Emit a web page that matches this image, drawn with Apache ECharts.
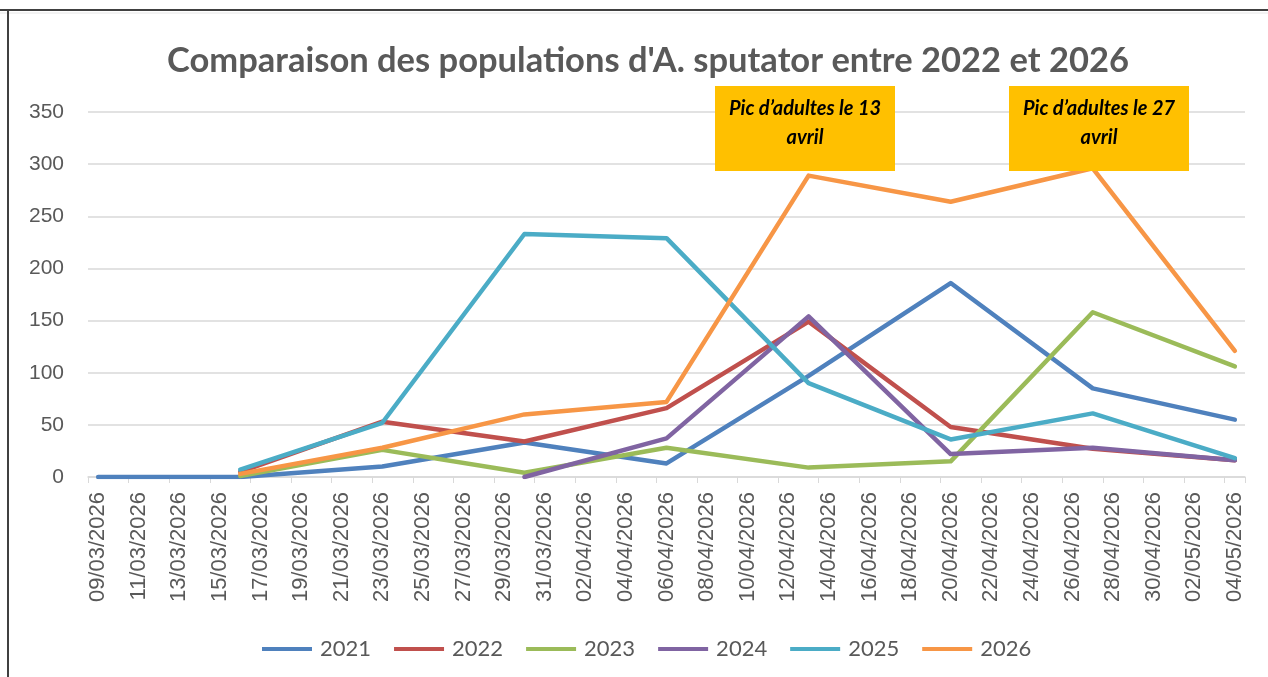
<!DOCTYPE html>
<html>
<head>
<meta charset="utf-8">
<script src="https://cdn.jsdelivr.net/npm/echarts@6/dist/echarts.min.js"></script>
<style>
html,body{margin:0;padding:0;background:#fff;}
#chart{width:1268px;height:677px;}
</style>
</head>
<body>
<div id="chart"></div>
<script>
// ---- data ----
const startDate = '2026-03-09';
const endDate = '2026-05-04';
const sampleDates = ['09/03/2026','16/03/2026','23/03/2026','30/03/2026','06/04/2026','13/04/2026','20/04/2026','27/04/2026','04/05/2026'];
const seriesNames = ['2021','2022','2023','2024','2025','2026'];
const v2021 = [0, 0, 10, 33, 13, 97, 186, 85, 55];
const v2022 = [null, 5, 53, 34, 66, 149, 48, 27, 16];
const v2023 = [null, 1, 26, 4, 28, 9, 15, 158, 106];
const v2024 = [null, null, null, 0, 37, 154, 22, 28, 16];
const v2025 = [null, 7, 52, 233, 229, 90, 36, 61, 18];
const v2026 = [null, 3, 28, 60, 72, 289, 264, 296, 121];
const yTicks = {min: 0, max: 350, interval: 50};
const titleText = "Comparaison des populations d'A. sputator entre 2022 et 2026";
const notes = ['Pic d\u2019adultes le 13\navril', 'Pic d\u2019adultes le 27\navril'];

// ---- build daily category axis ----
function fmt(d){
  const dd = String(d.getUTCDate()).padStart(2,'0');
  const mm = String(d.getUTCMonth()+1).padStart(2,'0');
  return dd + '/' + mm + '/' + d.getUTCFullYear();
}
const days = [];
for (let t = Date.parse(startDate + 'T00:00:00Z'); t <= Date.parse(endDate + 'T00:00:00Z'); t += 86400000) {
  days.push(fmt(new Date(t)));
}
function toDaily(vals){
  const arr = days.map(() => null);
  sampleDates.forEach((d, i) => {
    const k = days.indexOf(d);
    if (k >= 0 && vals[i] !== null) arr[k] = vals[i];
  });
  return arr;
}
const allVals = [v2021, v2022, v2023, v2024, v2025, v2026];
const colors = ['#4F81BD','#C0504D','#9BBB59','#8064A2','#4BACC6','#F79646'];

const chart = echarts.init(document.getElementById('chart'), null, {renderer:'canvas'});
const gray = '#595959';

function noteBox(x, txt){
  return [
    {type:'rect', left:x, top:86, z:200, zlevel:1, shape:{x:0, y:0, width:180, height:85}, style:{fill:'#FFC000'}},
    {type:'text', left:x, top:94, z:201, zlevel:1,
     style:{text: txt, width:180, fill:'#000', fontFamily:'Lato', fontStyle:'italic', fontWeight:'bold', fontSize:20, align:'center', lineHeight:29,
            x:90, textAlign:'center'}}
  ];
}

chart.setOption({
  animation: false,
  backgroundColor: '#fff',
  title: {
    text: titleText,
    left: 643, top: 38, textAlign: 'center',
    textStyle: {fontFamily: 'Lato', fontWeight: 'bold', fontSize: 34.5, color: gray}
  },
  legend: {
    data: seriesNames,
    left: 257, top: 633,
    itemWidth: 50, itemHeight: 4, itemGap: 23,
    icon: 'rect',
    textStyle: {fontFamily: 'Lato', fontSize: 22, color: gray, padding:[0,0,0,3]}
  },
  grid: {left: 88, right: 23, top: 112, bottom: 200, containLabel: false},
  xAxis: {
    type: 'category',
    data: days,
    boundaryGap: true,
    axisLine: {lineStyle: {color: '#D9D9D9', width: 1.5}},
    axisTick: {show: true, interval: 1, length: 6, lineStyle: {color: '#D9D9D9'}},
    axisLabel: {interval: 1, rotate: 90, fontFamily: 'Liberation Sans', fontSize: 22, color: gray, margin: 15},
    splitLine: {show: false}
  },
  yAxis: {
    type: 'value',
    min: yTicks.min, max: yTicks.max, interval: yTicks.interval,
    axisLine: {show: false}, axisTick: {show: false},
    axisLabel: {fontFamily: 'Liberation Sans', fontSize: 21, color: gray, margin: 24},
    splitLine: {lineStyle: {color: '#D9D9D9', width: 1.5}}
  },
  series: allVals.map((vals, i) => ({
    name: seriesNames[i],
    type: 'line',
    data: toDaily(vals),
    connectNulls: true,
    showSymbol: false,
    symbol: 'none',
    color: colors[i],
    lineStyle: {width: 4.5, color: colors[i], cap: 'round', join: 'round'}
  })),
  graphic: [
    {type:'line', shape:{x1:0, y1:10, x2:1268, y2:10}, style:{stroke:'#404040', lineWidth:2}, z:100},
    {type:'line', shape:{x1:0, y1:13, x2:1268, y2:13}, style:{stroke:'#E6E6E6', lineWidth:1}, z:100},
    {type:'line', shape:{x1:8, y1:10, x2:8, y2:677}, style:{stroke:'#404040', lineWidth:2}, z:100}
  ].concat(noteBox(715, notes[0]), noteBox(1009, notes[1]))
});
</script>
</body>
</html>
